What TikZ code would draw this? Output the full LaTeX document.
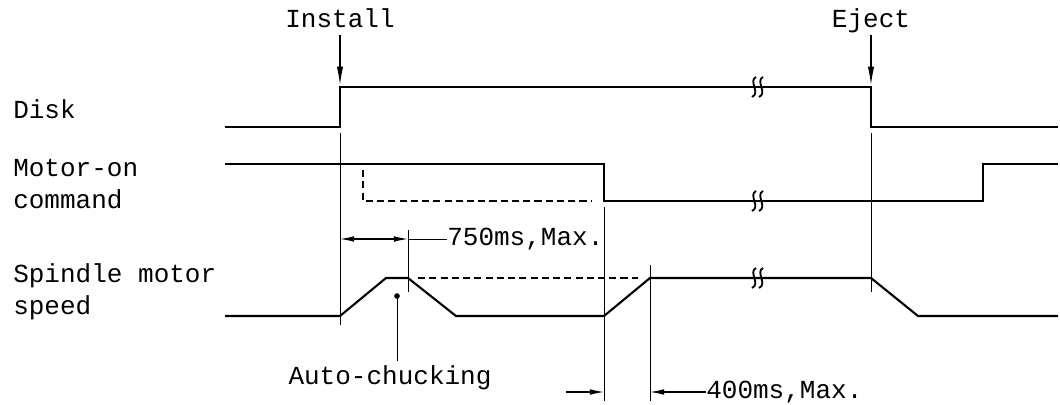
\documentclass[tikz,border=0pt]{standalone}
\usepackage{fontspec}
\setmonofont{Liberation Mono}
\usetikzlibrary{arrows.meta}
\newcommand{\brkmark}[2]{%
  \draw[line width=1.3pt] (#1-5,#2+10) .. controls (#1+4,#2+6) and (#1-9,#2-6) .. (#1-1,#2-10);
  \draw[line width=1.3pt] (#1+2,#2+10) .. controls (#1+11,#2+6) and (#1-2,#2-6) .. (#1+6,#2-10);}

\begin{document}
\begin{tikzpicture}[x=0.025cm,y=-0.025cm,
  sig/.style={line width=1.5pt},
  guide/.style={line width=0.6pt},
  dsh/.style={line width=1.1pt,dash pattern=on 5pt off 3pt},
  txt/.style={font=\ttfamily\fontsize{18.5}{22.8}\selectfont,inner sep=0pt},
  tip/.style={-{Latex[length=13pt,width=4.5pt]},line width=0.8pt},
  dimtip/.style={{Latex[length=10pt,width=4pt]}-{Latex[length=10pt,width=4pt]},line width=0.8pt}]
  \useasboundingbox (0,0) rectangle (1060,404);
  % signal names
  \node[txt,anchor=west] (disk) at (13,109) {Disk};
  \node[txt,anchor=west,align=left] (motor) at (13,184) {Motor-on\\command};
  \node[txt,anchor=west,align=left] (spindle) at (13,292) {Spindle motor\\speed};
  % events
  \node[txt,anchor=base] (install) at (340,27) {Install};
  \node[txt,anchor=base] (eject) at (871,27) {Eject};
  \coordinate (ins) at (340,85);
  \coordinate (ejt) at (871,85);
  \draw[tip] ([yshift=-6pt]install.base) -- (ins);
  \draw[tip] ([yshift=-6pt]eject.base) -- (ejt);
  % waveforms
  \draw[sig] (225,127) -- (340,127) -- (340,87) -- (871,87) -- (871,127) -- (1058,127);
  \draw[sig] (225,164) -- (604,164) -- (604,201) -- (983,201) -- (983,164) -- (1058,164);
  \draw[dsh] (363,170) -- (363,201) -- (592,201);
  \draw[sig] (225,316) -- (340,316) -- (386,278) -- (408,278) -- (456,316) -- (604,316)
    -- (650,278) -- (871,278) -- (918,316) -- (1058,316);
  \draw[dsh] (418,278) -- (638,278);
  \foreach \y in {87,201,278} {\brkmark{757}{\y}}
  % guide lines
  \draw[guide] (340,133) -- (340,325);
  \draw[guide] (408,230) -- (408,292);
  \draw[guide] (604,207) -- (604,401);
  \draw[guide] (650,265) -- (650,401);
  \draw[guide] (871,133) -- (871,292);
  % 750ms
  \node[txt,anchor=west] (t750) at (447,239) {750ms,Max.};
  \coordinate (a1) at (340,239);
  \coordinate (a2) at (408,239);
  \draw[dimtip] (a1) -- (a2);
  \draw[guide] (a2) -- (t750.west);
  % 400ms
  \node[txt,anchor=west] (t400) at (706,392) {400ms,Max.};
  \coordinate (b0) at (566,392);
  \coordinate (b1) at (604,392);
  \coordinate (b2) at (650,392);
  \draw[guide,line width=0.8pt,-{Latex[length=10pt,width=4pt]}] (b0) -- (b1);
  \draw[guide,line width=0.8pt,-{Latex[length=10pt,width=4pt]}] (t400.west) -- (b2);
  % auto-chucking
  \node[txt] (chuck) at (390,378) {Auto-chucking};
  \coordinate (dot) at (397,296);
  \fill (dot) circle[radius=2pt];
  \draw[guide] (dot) -- ([yshift=3pt]chuck.north -| dot);
\end{tikzpicture}
\end{document}
